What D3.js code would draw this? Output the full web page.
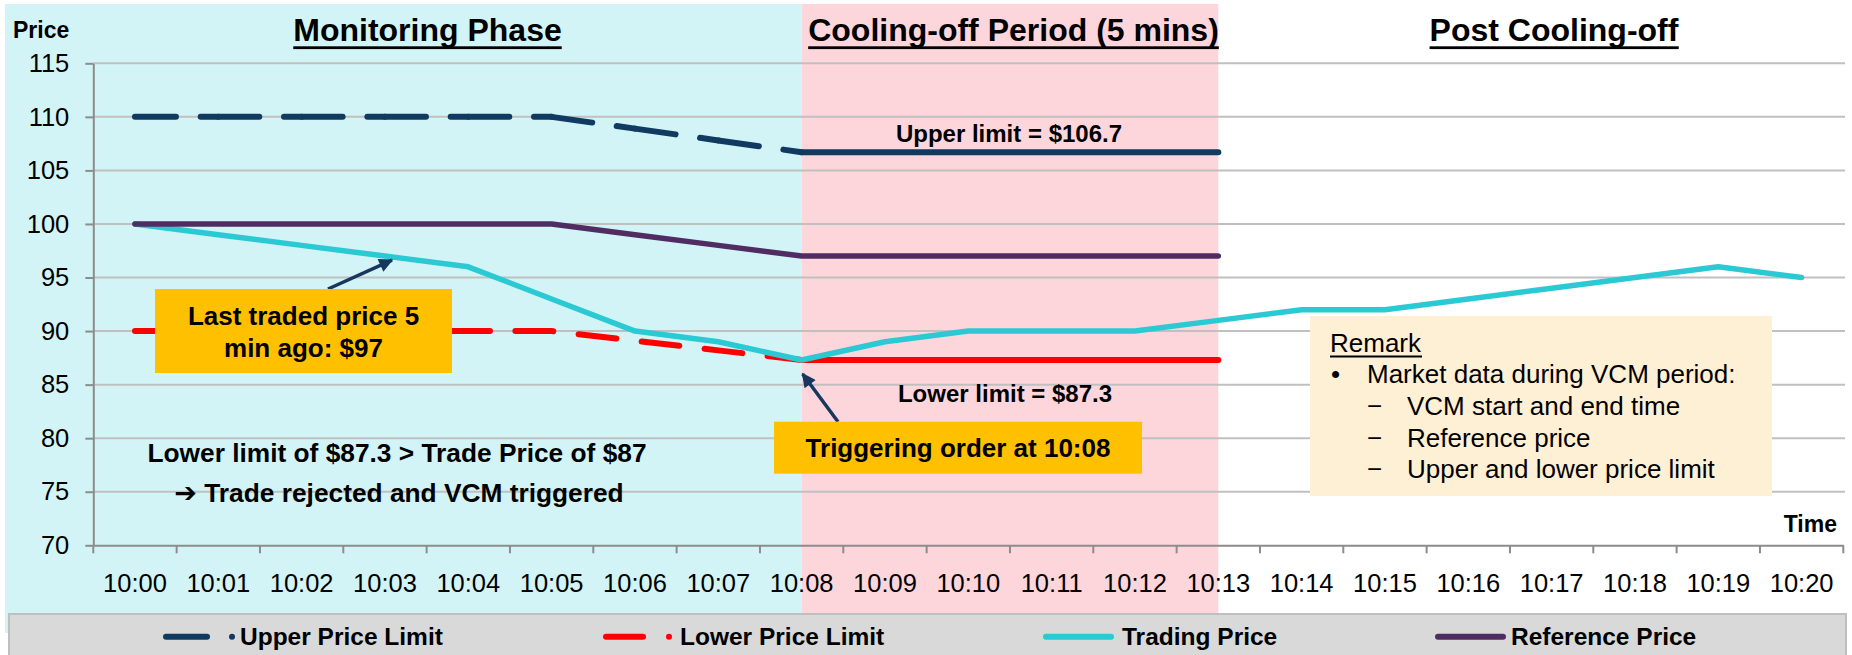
<!DOCTYPE html>
<html>
<head>
<meta charset="utf-8">
<script src="https://cdn.jsdelivr.net/npm/d3@7"></script>
<style>
  body { margin: 0; background: #fff; }
  svg { display: block; font-family: "Liberation Sans", Arial, sans-serif; }
</style>
</head>
<body>
<svg id="chart" width="1852" height="655"></svg>
<script>
// time axis categories
const times = ['10:00', '10:01', '10:02', '10:03', '10:04', '10:05', '10:06', '10:07',
  '10:08', '10:09', '10:10', '10:11', '10:12', '10:13', '10:14', '10:15', '10:16',
  '10:17', '10:18', '10:19', '10:20']
const yTicks = [70, 75, 80, 85, 90, 95, 100, 105, 110, 115]

// series (limits and reference only exist until 10:13)
const upperLimit = [110, 110, 110, 110, 110, 110, 108.9, 107.8, 106.7, 106.7, 106.7, 106.7, 106.7, 106.7]
const lowerLimit = [90, 90, 90, 90, 90, 90, 89.1, 88.2, 87.3, 87.3, 87.3, 87.3, 87.3, 87.3]
const tradingPrice = [100, 99, 98, 97, 96, 93, 90, 89, 87.3, 89, 90, 90, 90, 91, 92, 92, 93, 94, 95, 96, 95]
const referencePrice = [100, 100, 100, 100, 100, 100, 99, 98, 97, 97, 97, 97, 97, 97]

const phases = ['Monitoring Phase', 'Cooling-off Period (5 mins)', 'Post Cooling-off']
const legendNames = ['Upper Price Limit', 'Lower Price Limit', 'Trading Price', 'Reference Price']
const remarkLines = ['VCM start and end time', 'Reference price', 'Upper and lower price limit']

const colors = {
  upper: '#103A60',
  lower: '#FF0000',
  trading: '#2BC9D3',
  reference: '#4F2C62',
  arrow: '#17375E'
}

const svg = d3.select('#chart')

const x = d3.scaleBand().domain(times).range([93.3, 1843.3])
const bw = x.bandwidth()
const xc = (t) => x(t) + bw / 2
const y = d3.scaleLinear().domain([70, 115]).range([545.3, 63.3])

const trigger = '10:08'
const vcmEnd = '10:13'

// phase backgrounds
svg.append('rect')
  .attr('x', 5).attr('y', 4)
  .attr('width', xc(trigger) - 5).attr('height', 629)
  .attr('fill', '#D3F4F6')
svg.append('rect')
  .attr('x', xc(trigger)).attr('y', 4)
  .attr('width', xc(vcmEnd) - xc(trigger)).attr('height', 611)
  .attr('fill', '#FDD6DC')

// gridlines
svg.append('g')
  .selectAll('line')
  .data(yTicks.filter((v) => v > 70))
  .join('line')
    .attr('x1', 93.3).attr('x2', 1845)
    .attr('y1', (v) => y(v)).attr('y2', (v) => y(v))
    .attr('stroke', '#C0C0C0').attr('stroke-width', 2)

// y axis
const yAxis = svg.append('g')
  .attr('transform', 'translate(93.3,0)')
  .call(d3.axisLeft(y).tickValues(yTicks).tickSize(8).tickSizeOuter(0).tickPadding(16))
yAxis.select('.domain').attr('stroke', '#8C8C8C').attr('stroke-width', 2)
yAxis.selectAll('.tick line').attr('stroke', '#8C8C8C').attr('stroke-width', 2)
yAxis.selectAll('.tick text')
  .attr('font-size', 25.5).attr('fill', '#000')
  .attr('font-family', '"Liberation Sans", Arial, sans-serif')

// x axis: labels at band centres, ticks at band edges
const xAxis = svg.append('g')
  .attr('transform', `translate(0,${y(70)})`)
  .call(d3.axisBottom(x).tickSize(0).tickPadding(29))
xAxis.select('.domain').attr('stroke', '#8C8C8C').attr('stroke-width', 2)
xAxis.selectAll('.tick text')
  .attr('font-size', 25.5).attr('fill', '#000')
  .attr('font-family', '"Liberation Sans", Arial, sans-serif')
xAxis.selectAll('.edge')
  .data(times.concat(['end']))
  .join('line')
    .attr('class', 'edge')
    .attr('x1', (t, i) => 93.3 + i * bw).attr('x2', (t, i) => 93.3 + i * bw)
    .attr('y1', 0).attr('y2', 8)
    .attr('stroke', '#8C8C8C').attr('stroke-width', 2)

// remark box (behind the lines)
svg.append('rect')
  .attr('x', 1310).attr('y', 316)
  .attr('width', 462).attr('height', 180)
  .attr('fill', '#FEF0D5')

const line = d3.line()
  .x((d) => xc(d.t))
  .y((d) => y(d.v))

const pts = (values) => values.map((v, i) => ({ t: times[i], v }))
const trig = times.indexOf(trigger)

// upper limit: dashes restart each segment before 10:08, solid after
const upperPts = pts(upperLimit)
svg.append('g')
  .selectAll('path')
  .data(d3.range(trig))
  .join('path')
    .attr('d', (i) => line(upperPts.slice(i, i + 2)))
    .attr('fill', 'none')
    .attr('stroke', colors.upper).attr('stroke-width', 6)
    .attr('stroke-linecap', 'round')
    .attr('stroke-dasharray', '41,24.7,40')
svg.append('path')
  .attr('d', line(upperPts.slice(trig)))
  .attr('fill', 'none')
  .attr('stroke', colors.upper).attr('stroke-width', 6)
  .attr('stroke-linecap', 'round')

// lower limit
const lowerPts = pts(lowerLimit)
svg.append('path')
  .attr('d', line(lowerPts.slice(0, trig + 1)))
  .attr('fill', 'none')
  .attr('stroke', colors.lower).attr('stroke-width', 6)
  .attr('stroke-linecap', 'round')
  .attr('stroke-dasharray', '38,25.4')
svg.append('path')
  .attr('d', line(lowerPts.slice(trig)))
  .attr('fill', 'none')
  .attr('stroke', colors.lower).attr('stroke-width', 6)
  .attr('stroke-linecap', 'round')

// trading price
svg.append('path')
  .attr('d', line(pts(tradingPrice)))
  .attr('fill', 'none')
  .attr('stroke', colors.trading).attr('stroke-width', 5.5)
  .attr('stroke-linejoin', 'round').attr('stroke-linecap', 'round')

// reference price
svg.append('path')
  .attr('d', line(pts(referencePrice)))
  .attr('fill', 'none')
  .attr('stroke', colors.reference).attr('stroke-width', 5.5)
  .attr('stroke-linejoin', 'round').attr('stroke-linecap', 'round')

// arrows
svg.append('defs').append('marker')
  .attr('id', 'head')
  .attr('viewBox', '0 0 10 10')
  .attr('refX', 9).attr('refY', 5)
  .attr('markerWidth', 16).attr('markerHeight', 14)
  .attr('markerUnits', 'userSpaceOnUse')
  .attr('orient', 'auto')
  .append('path')
    .attr('d', 'M0,0 L10,5 L0,10 z')
    .attr('fill', colors.arrow)

const arrows = [
  { x1: 328, y1: 289, x2: xc('10:03') + 7, y2: y(96.9) + 3 },
  { x1: 838, y1: 421.7, x2: xc(trigger) + 1, y2: y(87.3) + 14 }
]
svg.append('g')
  .selectAll('line')
  .data(arrows)
  .join('line')
    .attr('x1', (d) => d.x1).attr('y1', (d) => d.y1)
    .attr('x2', (d) => d.x2).attr('y2', (d) => d.y2)
    .attr('stroke', colors.arrow).attr('stroke-width', 3.5)
    .attr('marker-end', 'url(#head)')

// orange callout boxes
const callouts = [
  { x: 155, y: 289, w: 297, h: 84, lines: ['Last traded price 5', 'min ago: $97'], base: 325, step: 31.7 },
  { x: 774, y: 421.7, w: 368, h: 52, lines: ['Triggering order at 10:08'], base: 456.7, step: 0 }
]
callouts.forEach((c) => {
  svg.append('rect')
    .attr('x', c.x).attr('y', c.y)
    .attr('width', c.w).attr('height', c.h)
    .attr('fill', '#FFC000')
  c.lines.forEach((s, i) => {
    svg.append('text')
      .attr('x', c.x + c.w / 2).attr('y', c.base + i * c.step)
      .attr('text-anchor', 'middle')
      .attr('font-size', 26).attr('font-weight', 'bold')
      .text(s)
  })
})

// helper for plain labels
function label (str, px, py, opts = {}) {
  return svg.append('text')
    .attr('x', px).attr('y', py)
    .attr('text-anchor', opts.anchor || 'start')
    .attr('font-size', opts.size || 24)
    .attr('font-weight', opts.bold ? 'bold' : 'normal')
    .attr('fill', '#000')
    .text(str)
}

function underline (t, uy, thick) {
  const b = t.node().getBBox()
  svg.append('rect')
    .attr('x', b.x).attr('y', uy)
    .attr('width', b.width).attr('height', thick)
    .attr('fill', '#000')
}

// phase titles
const titleX = [427.5, 1013.5, 1554]
phases.forEach((p, i) => {
  const t = label(p, titleX[i], 41, { anchor: 'middle', size: 32, bold: true })
  underline(t, 46.3, 2.8)
})

label('Price', 13, 38, { size: 23, bold: true })
label('Time', 1837, 532, { size: 23, bold: true, anchor: 'end' })

label('Upper limit = $106.7', 1009, 141.7, { size: 24, bold: true, anchor: 'middle' })
label('Lower limit = $87.3', 1005, 401.7, { size: 24, bold: true, anchor: 'middle' })

label('Lower limit of $87.3 > Trade Price of $87', 397, 461.7, { size: 26.3, bold: true, anchor: 'middle' })
const note2 = label('', 399, 501.7, { size: 26.3, bold: true, anchor: 'middle' })
note2.append('tspan')
  .attr('font-family', '"DejaVu Sans", sans-serif')
  .attr('font-size', 27)
  .text('\u2794')
note2.append('tspan').text(' Trade rejected and VCM triggered')

// remark text
const rm = label('Remark', 1330, 351.7, { size: 26 })
underline(rm, 355.5, 2)
label('\u2022', 1331, 383, { size: 26 })
label('Market data during VCM period:', 1367, 383, { size: 26 })
remarkLines.forEach((s, i) => {
  label('\u2212', 1367, 415 + i * 31.7, { size: 26 })
  label(s, 1407, 415 + i * 31.7, { size: 26 })
})

// legend
const legend = svg.append('g')
legend.append('rect')
  .attr('x', 9).attr('y', 614)
  .attr('width', 1837).attr('height', 45)
  .attr('fill', '#D9D9D9')
  .attr('stroke', '#BFBFBF').attr('stroke-width', 2)

const legendItems = [
  { name: legendNames[0], color: colors.upper, x0: 166, x1: 207, dot: 232, tx: 240 },
  { name: legendNames[1], color: colors.lower, x0: 606, x1: 643, dot: 669, tx: 680 },
  { name: legendNames[2], color: colors.trading, x0: 1046, x1: 1111, dot: null, tx: 1122 },
  { name: legendNames[3], color: colors.reference, x0: 1438, x1: 1503, dot: null, tx: 1511 }
]
const ly = 636.7
legendItems.forEach((d) => {
  legend.append('line')
    .attr('x1', d.x0).attr('x2', d.x1)
    .attr('y1', ly).attr('y2', ly)
    .attr('stroke', d.color).attr('stroke-width', 6)
    .attr('stroke-linecap', 'round')
  if (d.dot) {
    legend.append('circle')
      .attr('cx', d.dot).attr('cy', ly).attr('r', 3)
      .attr('fill', d.color)
  }
  legend.append('text')
    .attr('x', d.tx).attr('y', 645)
    .attr('font-size', 24.5).attr('font-weight', 'bold')
    .text(d.name)
})
</script>
</body>
</html>
